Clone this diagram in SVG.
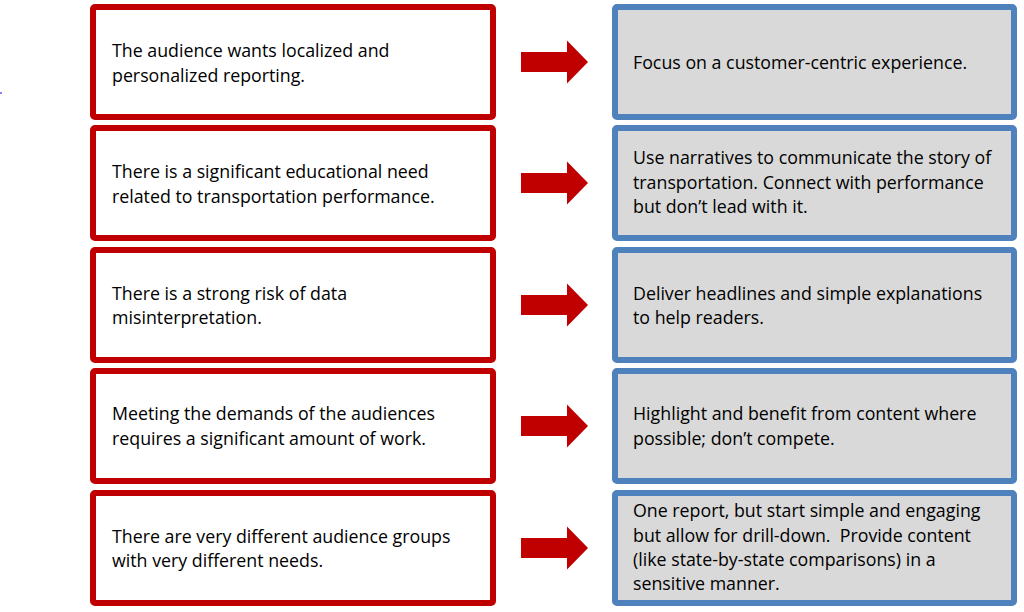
<svg xmlns="http://www.w3.org/2000/svg" width="1024" height="612" viewBox="0 0 1024 612">
<style>
.l{fill:#FFFFFF;stroke:#C00000;stroke-width:6}
.r{fill:#D9D9D9;stroke:#4F81BD;stroke-width:6}
.a{fill:#C00000}
text{font-family:"Open Sans","Liberation Sans",Arial,sans-serif;font-size:17.8px;fill:#000000}
</style>
<defs>
<path id="arr" d="M521,-10 H567 V-21.5 L588,0 L567,21.5 V10 H521 Z"/>
</defs>
<rect x="0" y="92" width="2" height="2" fill="#8080FF"/>
<g id="left1"><rect class="l" x="93" y="7" width="400" height="110" rx="2"/><text x="112" y="57">The audience wants localized and</text><text x="112" y="82">personalized reporting.</text></g>
<g id="left2"><rect class="l" x="93" y="128" width="400" height="110" rx="2"/><text x="112" y="178">There is a significant educational need</text><text x="112" y="203">related to transportation performance.</text></g>
<g id="left3"><rect class="l" x="93" y="250" width="400" height="110" rx="2"/><text x="112" y="300">There is a strong risk of data</text><text x="112" y="324">misinterpretation.</text></g>
<g id="left4"><rect class="l" x="93" y="371" width="400" height="110" rx="2"/><text x="112" y="420">Meeting the demands of the audiences</text><text x="112" y="445">requires a significant amount of work.</text></g>
<g id="left5"><rect class="l" x="93" y="493" width="400" height="110" rx="2"/><text x="112" y="543">There are very different audience groups</text><text x="112" y="567">with very different needs.</text></g>
<g id="right1"><rect class="r" x="615" y="7" width="399" height="110" rx="2"/><text x="633" y="69">Focus on a customer-centric experience.</text></g>
<g id="right2"><rect class="r" x="615" y="128" width="399" height="110" rx="2"/><text x="633" y="164">Use narratives to communicate the story of</text><text x="633" y="189">transportation. Connect with performance</text><text x="633" y="213">but don’t lead with it.</text></g>
<g id="right3"><rect class="r" x="615" y="250" width="399" height="110" rx="2"/><text x="633" y="300">Deliver headlines and simple explanations</text><text x="633" y="324">to help readers.</text></g>
<g id="right4"><rect class="r" x="615" y="371" width="399" height="110" rx="2"/><text x="633" y="420">Highlight and benefit from content where</text><text x="633" y="445">possible; don’t compete.</text></g>
<g id="right5"><rect class="r" x="615" y="493" width="399" height="110" rx="2"/><text x="633" y="517">One report, but start simple and engaging</text><text x="633" y="542">but allow for drill-down.&#160; Provide content</text><text x="633" y="566">(like state-by-state comparisons) in a</text><text x="633" y="590">sensitive manner.</text></g>
<g id="connectors">
<use href="#arr" class="a" transform="translate(0,62)"/>
<use href="#arr" class="a" transform="translate(0,183)"/>
<use href="#arr" class="a" transform="translate(0,305)"/>
<use href="#arr" class="a" transform="translate(0,426)"/>
<use href="#arr" class="a" transform="translate(0,548)"/>
</g>
</svg>
